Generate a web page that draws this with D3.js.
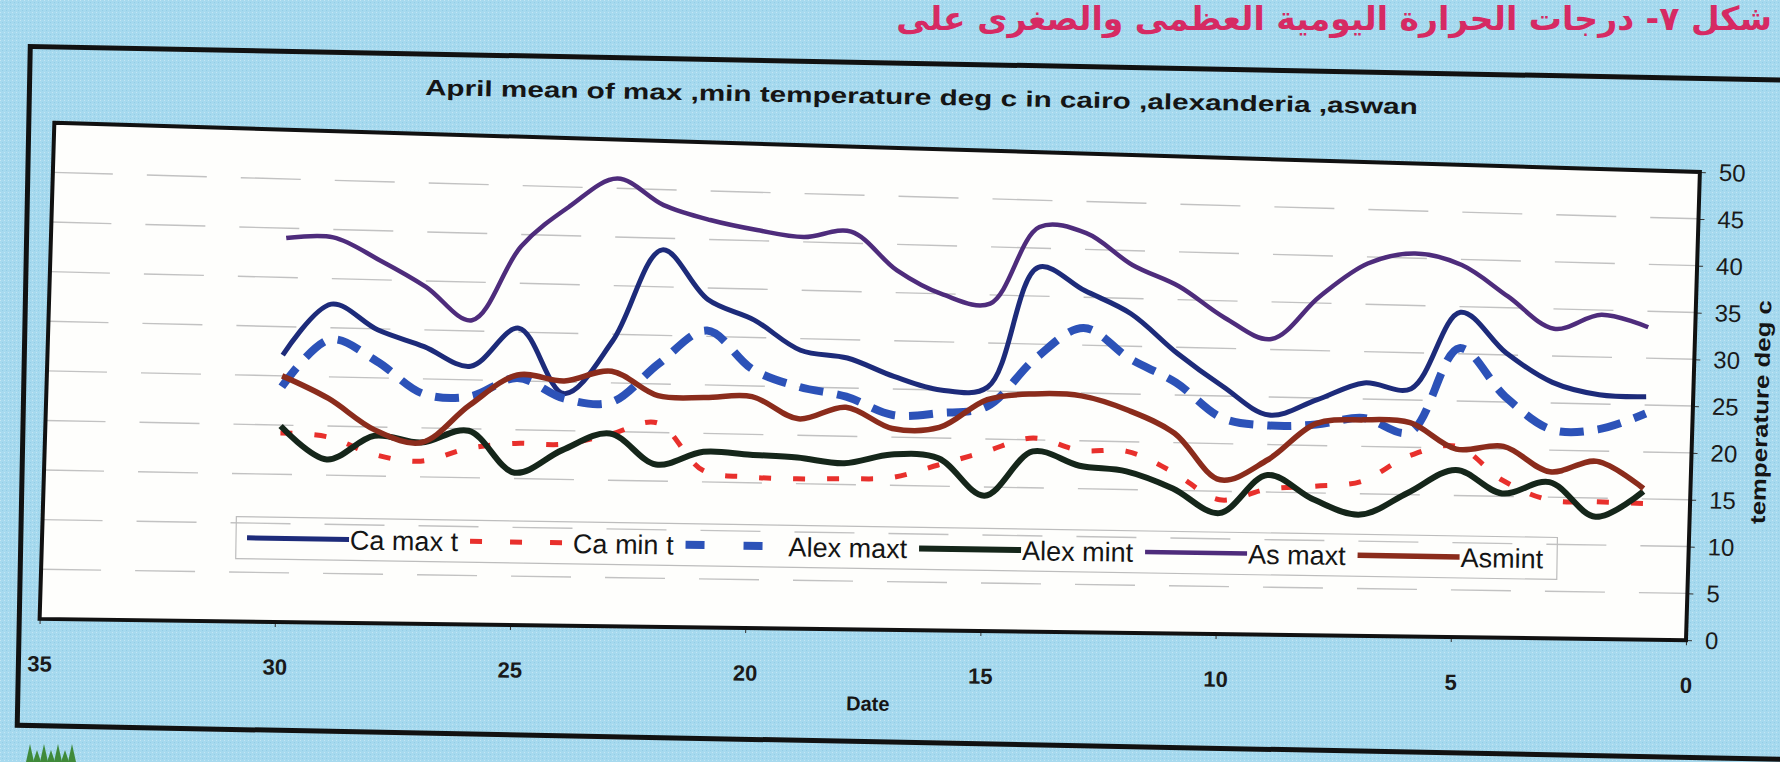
<!DOCTYPE html>
<html><head><meta charset="utf-8">
<script src="https://cdn.jsdelivr.net/npm/d3@7"></script>
<style>
html,body{margin:0;padding:0;background:#a6d9ee;}
svg{display:block;}
</style></head><body>
<svg id="c" width="1780" height="762"></svg>
<script>
// ---- data (April days, x axis reversed: 35 at left, 0 at right) ----
const days = [30,29,28,27,26,25,24,23,22,21,20,19,18,17,16,15,14,13,12,11,10,9,8,7,6,5,4,3,2,1];
const caMax  = [27.1,32.4,29.9,28.3,26.4,30.4,23.8,29.3,38.8,33.8,31.8,28.8,28.1,26.3,25.0,25.4,38.0,35.7,33.4,29.4,26.0,23.1,24.8,26.7,26.2,34.4,30.2,27.2,26.0,25.9];
const caMin  = [19.2,18.9,17.2,16.6,18.0,18.6,18.6,19.7,21.0,16.2,15.6,15.5,15.6,15.8,17.2,18.7,20.2,19.0,19.0,16.9,14.1,15.3,15.7,16.3,19.1,20.2,16.7,14.7,14.6,14.5];
const alexMax= [23.9,28.8,26.7,23.5,23.3,25.3,23.3,23.0,27.1,30.6,26.7,25.0,24.1,22.3,22.6,23.4,28.5,31.8,28.7,26.3,22.7,22.0,22.2,23.0,21.6,30.6,25.6,22.2,22.3,24.1];
const alexMin= [19.9,16.6,19.1,18.5,19.8,15.6,18.0,19.8,16.7,18.1,17.9,17.7,17.2,18.2,17.9,14.1,18.8,17.4,16.9,15.2,12.7,16.8,14.3,12.8,15.2,17.7,15.3,16.6,13.0,15.8];
const asMax  = [39.0,39.2,37.0,34.4,31.1,38.8,43.0,46.0,43.4,42.0,41.1,40.5,41.2,37.3,34.9,34.1,42.2,41.7,38.5,36.4,33.2,31.1,35.7,39.3,40.5,39.4,36.2,32.9,34.5,33.3];
const asMin  = [25.0,22.8,19.7,18.5,22.4,25.6,25.1,26.2,23.8,23.7,23.9,21.7,23.0,20.9,21.1,24.1,24.8,24.7,23.3,21.0,16.2,18.4,22.3,22.8,22.6,19.9,20.3,17.7,18.9,16.1];
const seriesNames = ["Ca max t","Ca min t","Alex maxt","Alex mint","As maxt","Asmint"];
const xTicks = [35,30,25,20,15,10,5,0];
const yTicks = [0,5,10,15,20,25,30,35,40,45,50];
const title = "April mean of max ,min temperature deg c in cairo ,alexanderia ,aswan";
const xTitle = "Date";
const yTitle = "temperature deg c";
const caption = "شكل ٧- درجات الحرارة اليومية العظمى والصغرى على";

// ---- styles ----
const styles = [
  {color:"#1d2b7a", width:5,   dash:null,    legDash:null},
  {color:"#e8302c", width:5,   dash:"12 22", legDash:"12 28"},
  {color:"#2c52b8", width:8,   dash:"24 14", legDash:"19 39"},
  {color:"#15261a", width:6,   dash:null,    legDash:null},
  {color:"#4e2c7c", width:4.5, dash:null,    legDash:null},
  {color:"#8b2c1c", width:5.5, dash:null,    legDash:null}
];
const allSeries = [caMax, caMin, alexMax, alexMin, asMax, asMin];
const FONT = "Liberation Sans, Arial, sans-serif";
const DEG = 180/Math.PI;

const W = 1780, H = 762;
const svg = d3.select("#c");
const defs = svg.append("defs");
const pat = defs.append("pattern").attr("id","dots").attr("width",4).attr("height",4).attr("patternUnits","userSpaceOnUse");
pat.append("rect").attr("width",4).attr("height",4).attr("fill","#a6d9ee");
pat.append("rect").attr("x",0).attr("y",0).attr("width",1).attr("height",1).attr("fill","#c4e6f4");
pat.append("rect").attr("x",2).attr("y",2).attr("width",1).attr("height",1).attr("fill","#93cde6");
svg.append("rect").attr("width",W).attr("height",H).attr("fill","url(#dots)");

// caption (top of scanned page)
svg.append("text").attr("x",1772).attr("y",30).attr("text-anchor","end")
  .attr("font-family","DejaVu Sans, Noto Sans, sans-serif").attr("font-weight","bold")
  .attr("font-size",33).attr("fill","#d62a63").text(caption);

// small green logo at bottom-left of the page
const logo = svg.append("g").attr("fill","#3f8a3a");
[0,7,14,21,28,35,42].forEach((o,i)=>{
  logo.append("path").attr("d",`M${26+o},762 L${30+o},${744 + (i%2)*6} L${34+o},762 Z`);
});

// ---- outer frame (scanned page tilt) ----
const go = svg.append("g").attr("transform","rotate(1.1 890 381)");
go.append("rect").attr("x",24).attr("y",63).attr("width",1830).attr("height",679)
  .attr("fill","none").attr("stroke","#111").attr("stroke-width",5);
go.append("text").attr("x",916).attr("y",104).attr("text-anchor","middle")
  .attr("font-family",FONT).attr("font-weight","bold")
  .attr("font-size",22).attr("fill","#151515")
  .attr("textLength",993).attr("lengthAdjust","spacingAndGlyphs").text(title);
go.append("text").attr("x",874).attr("y",711).attr("text-anchor","middle")
  .attr("font-family",FONT).attr("font-weight","bold")
  .attr("font-size",20).attr("fill","#151515").text(xTitle);

// ---- plot: scales + the scan's keystone projection ----
const x = d3.scaleLinear().domain([35,0]).range([46,1693]);
const yFrac = d3.scaleLinear().domain([0,50]).range([1,0]);
const topEdge = xx => 123 + 0.0299*(xx-54);
const botEdge = xx => 619 + 0.0129*(xx-54);
const SH = 0.02967;
function proj(d, v){
  const xx = x(d);
  const ys = topEdge(xx) + yFrac(v)*(botEdge(xx)-topEdge(xx));
  return [xx - (ys-404)*SH, ys];
}
const g = svg.append("g");
const TL = proj(35,50), TR = proj(0,50), BR = proj(0,0), BL = proj(35,0);
const corners = [TL,TR,BR,BL].map(p=>p.join(",")).join(" ");
g.append("polygon").attr("points",corners).attr("fill","#fefefc");

// gridlines
g.append("g").selectAll("line").data(yTicks.filter(v=>v>0 && v<50)).join("line")
  .attr("x1",d=>proj(35,d)[0]).attr("y1",d=>proj(35,d)[1])
  .attr("x2",d=>proj(0,d)[0]).attr("y2",d=>proj(0,d)[1])
  .attr("stroke","#c2c2c2").attr("stroke-width",1.4).attr("stroke-dasharray","60 34");

// value axis (right)
const yR = d3.scaleLinear().domain([0,50]).range([BR[1],TR[1]]);
const yAxis = g.append("g").attr("transform",`rotate(${Math.atan(SH)*DEG} ${x(0)} 404) translate(${x(0)},0)`)
  .call(d3.axisRight(yR).tickValues(yTicks).tickSize(6).tickPadding(13));
yAxis.select(".domain").remove();
yAxis.selectAll("line").attr("stroke","#333");
yAxis.selectAll("text").attr("font-family",FONT).attr("font-size",24).attr("fill","#1a1a1a");

// category axis (bottom)
const bAng = Math.atan2(BR[1]-BL[1], BR[0]-BL[0]);
const bLen = Math.hypot(BR[0]-BL[0], BR[1]-BL[1]);
const xb = d3.scaleLinear().domain([35,0]).range([0,bLen]);
const xAxis = g.append("g").attr("transform",`translate(${BL[0]},${BL[1]}) rotate(${bAng*DEG})`)
  .call(d3.axisBottom(xb).tickValues(xTicks).tickSize(5).tickPadding(32));
xAxis.select(".domain").remove();
xAxis.selectAll("line").attr("stroke","#333");
xAxis.selectAll("text").attr("font-family",FONT).attr("font-weight","bold").attr("font-size",22).attr("fill","#1a1a1a");

// value-axis title
g.append("text").attr("transform",`rotate(1.7 1693 404) translate(1761,410) rotate(-90)`).attr("text-anchor","middle")
  .attr("dy","0.35em")
  .attr("font-family",FONT).attr("font-weight","bold")
  .attr("font-size",21).attr("fill","#151515")
  .attr("textLength",224).attr("lengthAdjust","spacingAndGlyphs").text(yTitle);

// legend (inside plot, along the value 8.5 line)
const legV = 8.5;
const P0 = proj(x.invert(240), legV), P1 = proj(x.invert(1560), legV);
const lAng = Math.atan2(P1[1]-P0[1], P1[0]-P0[0])*DEG;
const leg = g.append("g").attr("transform",`translate(${P0[0]},${P0[1]}) rotate(${lAng})`);
const legBox = leg.append("rect").attr("x",0).attr("y",-21).attr("height",42)
  .attr("fill","none").attr("stroke","#bdbdbd").attr("stroke-width",1.2);
let lx = 11;
seriesNames.forEach((name,i)=>{
  const s = styles[i];
  leg.append("line").attr("x1",lx).attr("x2",lx+102).attr("y1",0).attr("y2",0)
    .attr("stroke",s.color).attr("stroke-width",s.width).attr("stroke-dasharray",s.legDash);
  const t = leg.append("text").attr("x",lx+103).attr("y",10)
    .attr("font-family",FONT).attr("font-size",27).attr("fill","#151515").text(name);
  lx = lx + 103 + t.node().getComputedTextLength() + 12;
});
legBox.attr("width", lx + 2);

// plot border
g.append("polygon").attr("points",corners).attr("fill","none").attr("stroke","#111").attr("stroke-width",4)
  .attr("stroke-linejoin","miter");

// series lines
const line = d3.line().x(p=>proj(p[0],p[1])[0]).y(p=>proj(p[0],p[1])[1]).curve(d3.curveCatmullRom.alpha(0.5));
allSeries.forEach((vals,i)=>{
  const s = styles[i];
  g.append("path").datum(days.map((d,k)=>[d,vals[k]])).attr("d",line)
    .attr("fill","none").attr("stroke",s.color).attr("stroke-width",s.width)
    .attr("stroke-dasharray",s.dash).attr("stroke-linejoin","round");
});
</script>
</body></html>
